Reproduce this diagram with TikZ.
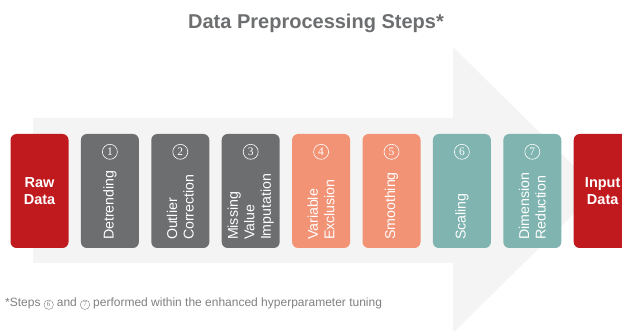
\documentclass[tikz,border=0pt]{standalone}
\usepackage{fontspec}
\setmainfont{Liberation Sans}
\newfontfamily\numfont{Liberation Serif}
\usetikzlibrary{positioning}
\definecolor{steps-red}{RGB}{192,26,30}
\definecolor{steps-gray}{RGB}{109,110,112}
\definecolor{steps-salmon}{RGB}{242,147,118}
\definecolor{steps-teal}{RGB}{127,180,176}
\definecolor{arrow-bg}{RGB}{244,244,244}
\definecolor{note-gray}{RGB}{128,128,128}
\tikzset{
    step-box/.style = {rectangle, rounded corners=6pt, inner sep=0pt, minimum width=58pt, minimum height=114pt},
    end-box/.style = {step-box, fill=steps-red, text=white, align=center, font=\fontsize{14.5}{17}\selectfont\bfseries},
    step-label/.style = {rotate=90, anchor=west, inner sep=0pt, text=white, align=left, font=\fontsize{14.2}{16.5}\selectfont},
    step-num/.style = {circle, draw=white, line width=0.6pt, inner sep=0pt, minimum size=15pt, text=white, font=\numfont\fontsize{11.5}{12}\selectfont},
    note-text/.style = {inner sep=0pt, text=note-gray, font=\fontsize{12}{14}\selectfont},
    note-num/.style = {circle, draw=note-gray, line width=0.4pt, inner sep=0pt, minimum size=9.5pt, text=note-gray, font=\numfont\fontsize{7}{8}\selectfont},
}

\begin{document}
\begin{tikzpicture}[x=1pt, y=-1pt]
\useasboundingbox (0,0) rectangle (622,331);
\fill[arrow-bg] (33,118) -- (453,118) -- (453,47) -- (598,190) -- (453,333) -- (453,263) -- (33,263) -- cycle;
\node[anchor=base, text=steps-gray, font=\fontsize{20}{24}\selectfont\bfseries] (title) at (316,29) {Data Preprocessing Steps*};

\node[end-box] (raw) at (39.5,191) {Raw\\Data};
\node[step-box, fill=steps-gray, right=12pt of raw] (s1) {};
\node[step-box, fill=steps-gray, right=12pt of s1] (s2) {};
\node[step-box, fill=steps-gray, right=12pt of s2] (s3) {};
\node[step-box, fill=steps-salmon, right=12pt of s3] (s4) {};
\node[step-box, fill=steps-salmon, right=12pt of s4] (s5) {};
\node[step-box, fill=steps-teal, right=12pt of s5] (s6) {};
\node[step-box, fill=steps-teal, right=12pt of s6] (s7) {};
\node[end-box, right=12pt of s7] (input) {Input\\Data};

\node[step-num] (n1) at ([yshift=-18pt]s1.north) {1};
\node[step-num] (n2) at ([yshift=-18pt]s2.north) {2};
\node[step-num] (n3) at ([yshift=-18pt]s3.north) {3};
\node[step-num] (n4) at ([yshift=-18pt]s4.north) {4};
\node[step-num] (n5) at ([yshift=-18pt]s5.north) {5};
\node[step-num] (n6) at ([yshift=-18pt]s6.north) {6};
\node[step-num] (n7) at ([yshift=-18pt]s7.north) {7};

\node[step-label] (l1) at ([yshift=8pt]s1.south) {Detrending};
\node[step-label] (l2) at ([yshift=8pt]s2.south) {Outlier\\Correction};
\node[step-label] (l3) at ([yshift=8pt]s3.south) {Missing\\Value\\Imputation};
\node[step-label] (l4) at ([yshift=8pt]s4.south) {Variable\\Exclusion};
\node[step-label] (l5) at ([yshift=8pt]s5.south) {Smoothing};
\node[step-label] (l6) at ([yshift=8pt]s6.south) {Scaling};
\node[step-label] (l7) at ([yshift=8pt]s7.south) {Dimension\\Reduction};

\node[note-text, anchor=base west] (note) at (5,307) {*Steps};
\node[note-num, base right=3pt of note] (note6) {6};
\node[note-text, base right=3pt of note6] (note-and) {and};
\node[note-num, base right=3pt of note-and] (note7) {7};
\node[note-text, base right=3pt of note7] (note-rest) {performed within the enhanced hyperparameter tuning};
\end{tikzpicture}
\end{document}
